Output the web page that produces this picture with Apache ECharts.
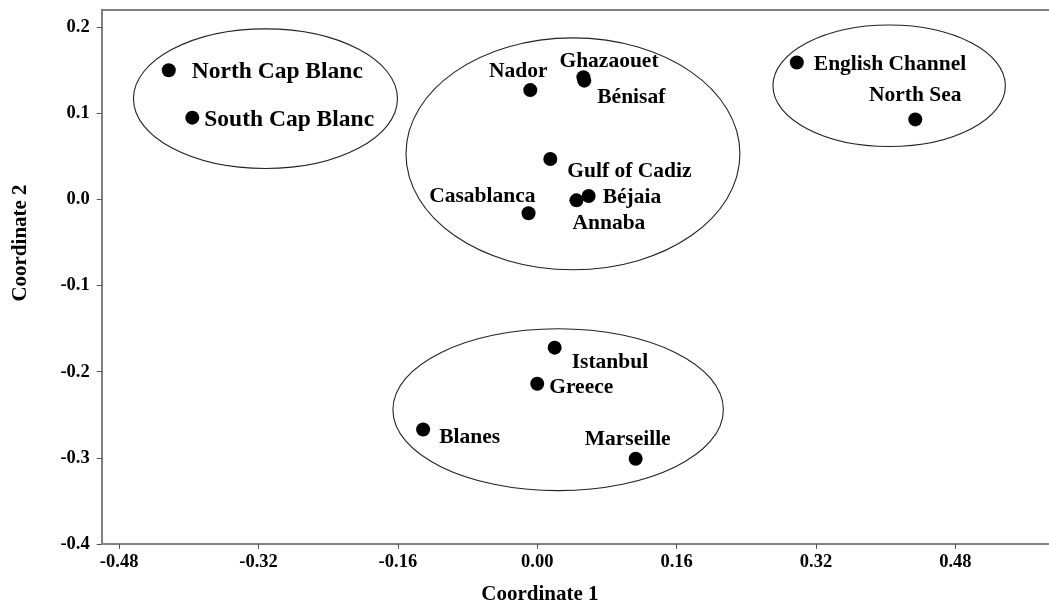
<!DOCTYPE html>
<html>
<head>
<meta charset="utf-8">
<script src="https://cdn.jsdelivr.net/npm/echarts@6/dist/echarts.min.js"></script>
<style>
  html, body { margin: 0; padding: 0; background: #fff; }
  #chart { width: 1049px; height: 610px; }
</style>
</head>
<body>
<div id="chart"></div>
<script>
// Sampling sites and their MDS coordinates
const sites = ['North Cap Blanc', 'South Cap Blanc', 'English Channel', 'North Sea',
  'Nador', 'Ghazaouet', 'Bénisaf', 'Gulf of Cadiz', 'Béjaia', 'Annaba', 'Casablanca',
  'Istanbul', 'Greece', 'Blanes', 'Marseille'];
const coord1 = [-0.423, -0.396, 0.298, 0.434,
  -0.008, 0.053, 0.054, 0.015, 0.059, 0.045, -0.010,
  0.020, 0.000, -0.131, 0.113];
const coord2 = [0.150, 0.095, 0.159, 0.093,
  0.127, 0.142, 0.138, 0.047, 0.004, -0.001, -0.016,
  -0.172, -0.214, -0.267, -0.301];

// Cluster ellipses (centre and semi-axes, in coordinate units)
const clusterCx = [-0.312, 0.041, 0.404, 0.024];
const clusterCy = [0.117, 0.053, 0.132, -0.244];
const clusterRx = [0.1515, 0.1917, 0.1334, 0.1897];
const clusterRy = [0.0811, 0.1346, 0.0705, 0.0940];

// Axis tick values
const xTicks = [-0.48, -0.32, -0.16, 0.00, 0.16, 0.32, 0.48];
const yTicks = [-0.4, -0.3, -0.2, -0.1, 0.0, 0.1, 0.2];

// Label placement around each point: [dx, dy, align, fontSize]
const labelPlacement = {
  'North Cap Blanc': [23, 2, 'left', 23.5],
  'South Cap Blanc': [12, 2, 'left', 23.5],
  'English Channel': [17, 2, 'left', 21.5],
  'North Sea': [0, -24, 'center', 21.5],
  'Nador': [-12, -19, 'center', 21.5],
  'Ghazaouet': [-24, -16, 'left', 21.5],
  'Bénisaf': [13, 17, 'left', 21.5],
  'Gulf of Cadiz': [17, 12, 'left', 21.5],
  'Béjaia': [14, 1, 'left', 21.5],
  'Annaba': [-4, 23, 'left', 21.5],
  'Casablanca': [7, -17, 'right', 21.5],
  'Istanbul': [17, 15, 'left', 21.5],
  'Greece': [12, 4, 'left', 21.5],
  'Blanes': [16, 8, 'left', 21.5],
  'Marseille': [-8, -19, 'center', 21.5]
};

const serif = '"Liberation Serif", "Times New Roman", serif';
const axisGray = '#808080';

const points = sites.map((name, i) => {
  const p = labelPlacement[name];
  return {
    name: name,
    value: [coord1[i], coord2[i]],
    label: { offset: [p[0], p[1]], align: p[2], fontSize: p[3] }
  };
});

const ellipses = clusterCx.map((cx, i) => [cx, clusterCy[i], clusterRx[i], clusterRy[i]]);

const chart = echarts.init(document.getElementById('chart'), null, { renderer: 'canvas' });

chart.setOption({
  animation: false,
  backgroundColor: '#ffffff',
  grid: { left: 101.7, right: 0, top: 10, bottom: 61.3, containLabel: false },
  xAxis: [{
    type: 'value',
    min: -0.5,
    max: 0.5875,
    position: 'bottom',
    name: 'Coordinate 1',
    nameLocation: 'middle',
    nameGap: 40,
    nameTextStyle: {
      fontFamily: serif, fontWeight: 'bold', fontSize: 21, color: '#000',
      padding: [0, 71, 0, 0]
    },
    splitLine: { show: false },
    axisLine: { show: true, onZero: false, lineStyle: { color: axisGray, width: 2 } },
    axisTick: { show: true, length: 5, customValues: xTicks, lineStyle: { color: '#555', width: 1 } },
    axisLabel: {
      customValues: xTicks,
      margin: 9,
      fontFamily: serif, fontWeight: 'bold', fontSize: 18.5, color: '#000',
      formatter: v => v.toFixed(2)
    }
  }, {
    type: 'value',
    min: -0.5,
    max: 0.5875,
    position: 'top',
    splitLine: { show: false },
    axisLine: { show: true, onZero: false, lineStyle: { color: axisGray, width: 2 } },
    axisTick: { show: false },
    axisLabel: { show: false }
  }],
  yAxis: {
    type: 'value',
    min: -0.4,
    max: 0.22,
    name: 'Coordinate 2',
    nameLocation: 'middle',
    nameGap: 71,
    nameTextStyle: {
      fontFamily: serif, fontWeight: 'bold', fontSize: 21, color: '#000',
      padding: [0, 0, 0, 68]
    },
    splitLine: { show: false },
    axisLine: { show: true, onZero: false, lineStyle: { color: axisGray, width: 2 } },
    axisTick: { show: true, length: 5, customValues: yTicks, lineStyle: { color: '#555', width: 1 } },
    axisLabel: {
      customValues: yTicks,
      margin: 12,
      fontFamily: serif, fontWeight: 'bold', fontSize: 18.5, color: '#000',
      formatter: v => v.toFixed(1)
    }
  },
  series: [{
    type: 'custom',
    silent: true,
    z: 1,
    clip: false,
    data: ellipses,
    renderItem: function (params, api) {
      const c = api.coord([api.value(0), api.value(1)]);
      const s = api.size([api.value(2), api.value(3)]);
      return {
        type: 'ellipse',
        shape: { cx: c[0], cy: c[1], rx: s[0], ry: s[1] },
        style: { fill: 'none', stroke: '#222', lineWidth: 1.1 }
      };
    }
  }, {
    type: 'scatter',
    z: 3,
    symbol: 'circle',
    symbolSize: 14,
    itemStyle: { color: '#000', opacity: 1 },
    label: {
      show: true,
      position: 'inside',
      verticalAlign: 'middle',
      formatter: p => p.name,
      fontFamily: serif,
      fontWeight: 'bold',
      color: '#000'
    },
    data: points
  }]
});
</script>
</body>
</html>
